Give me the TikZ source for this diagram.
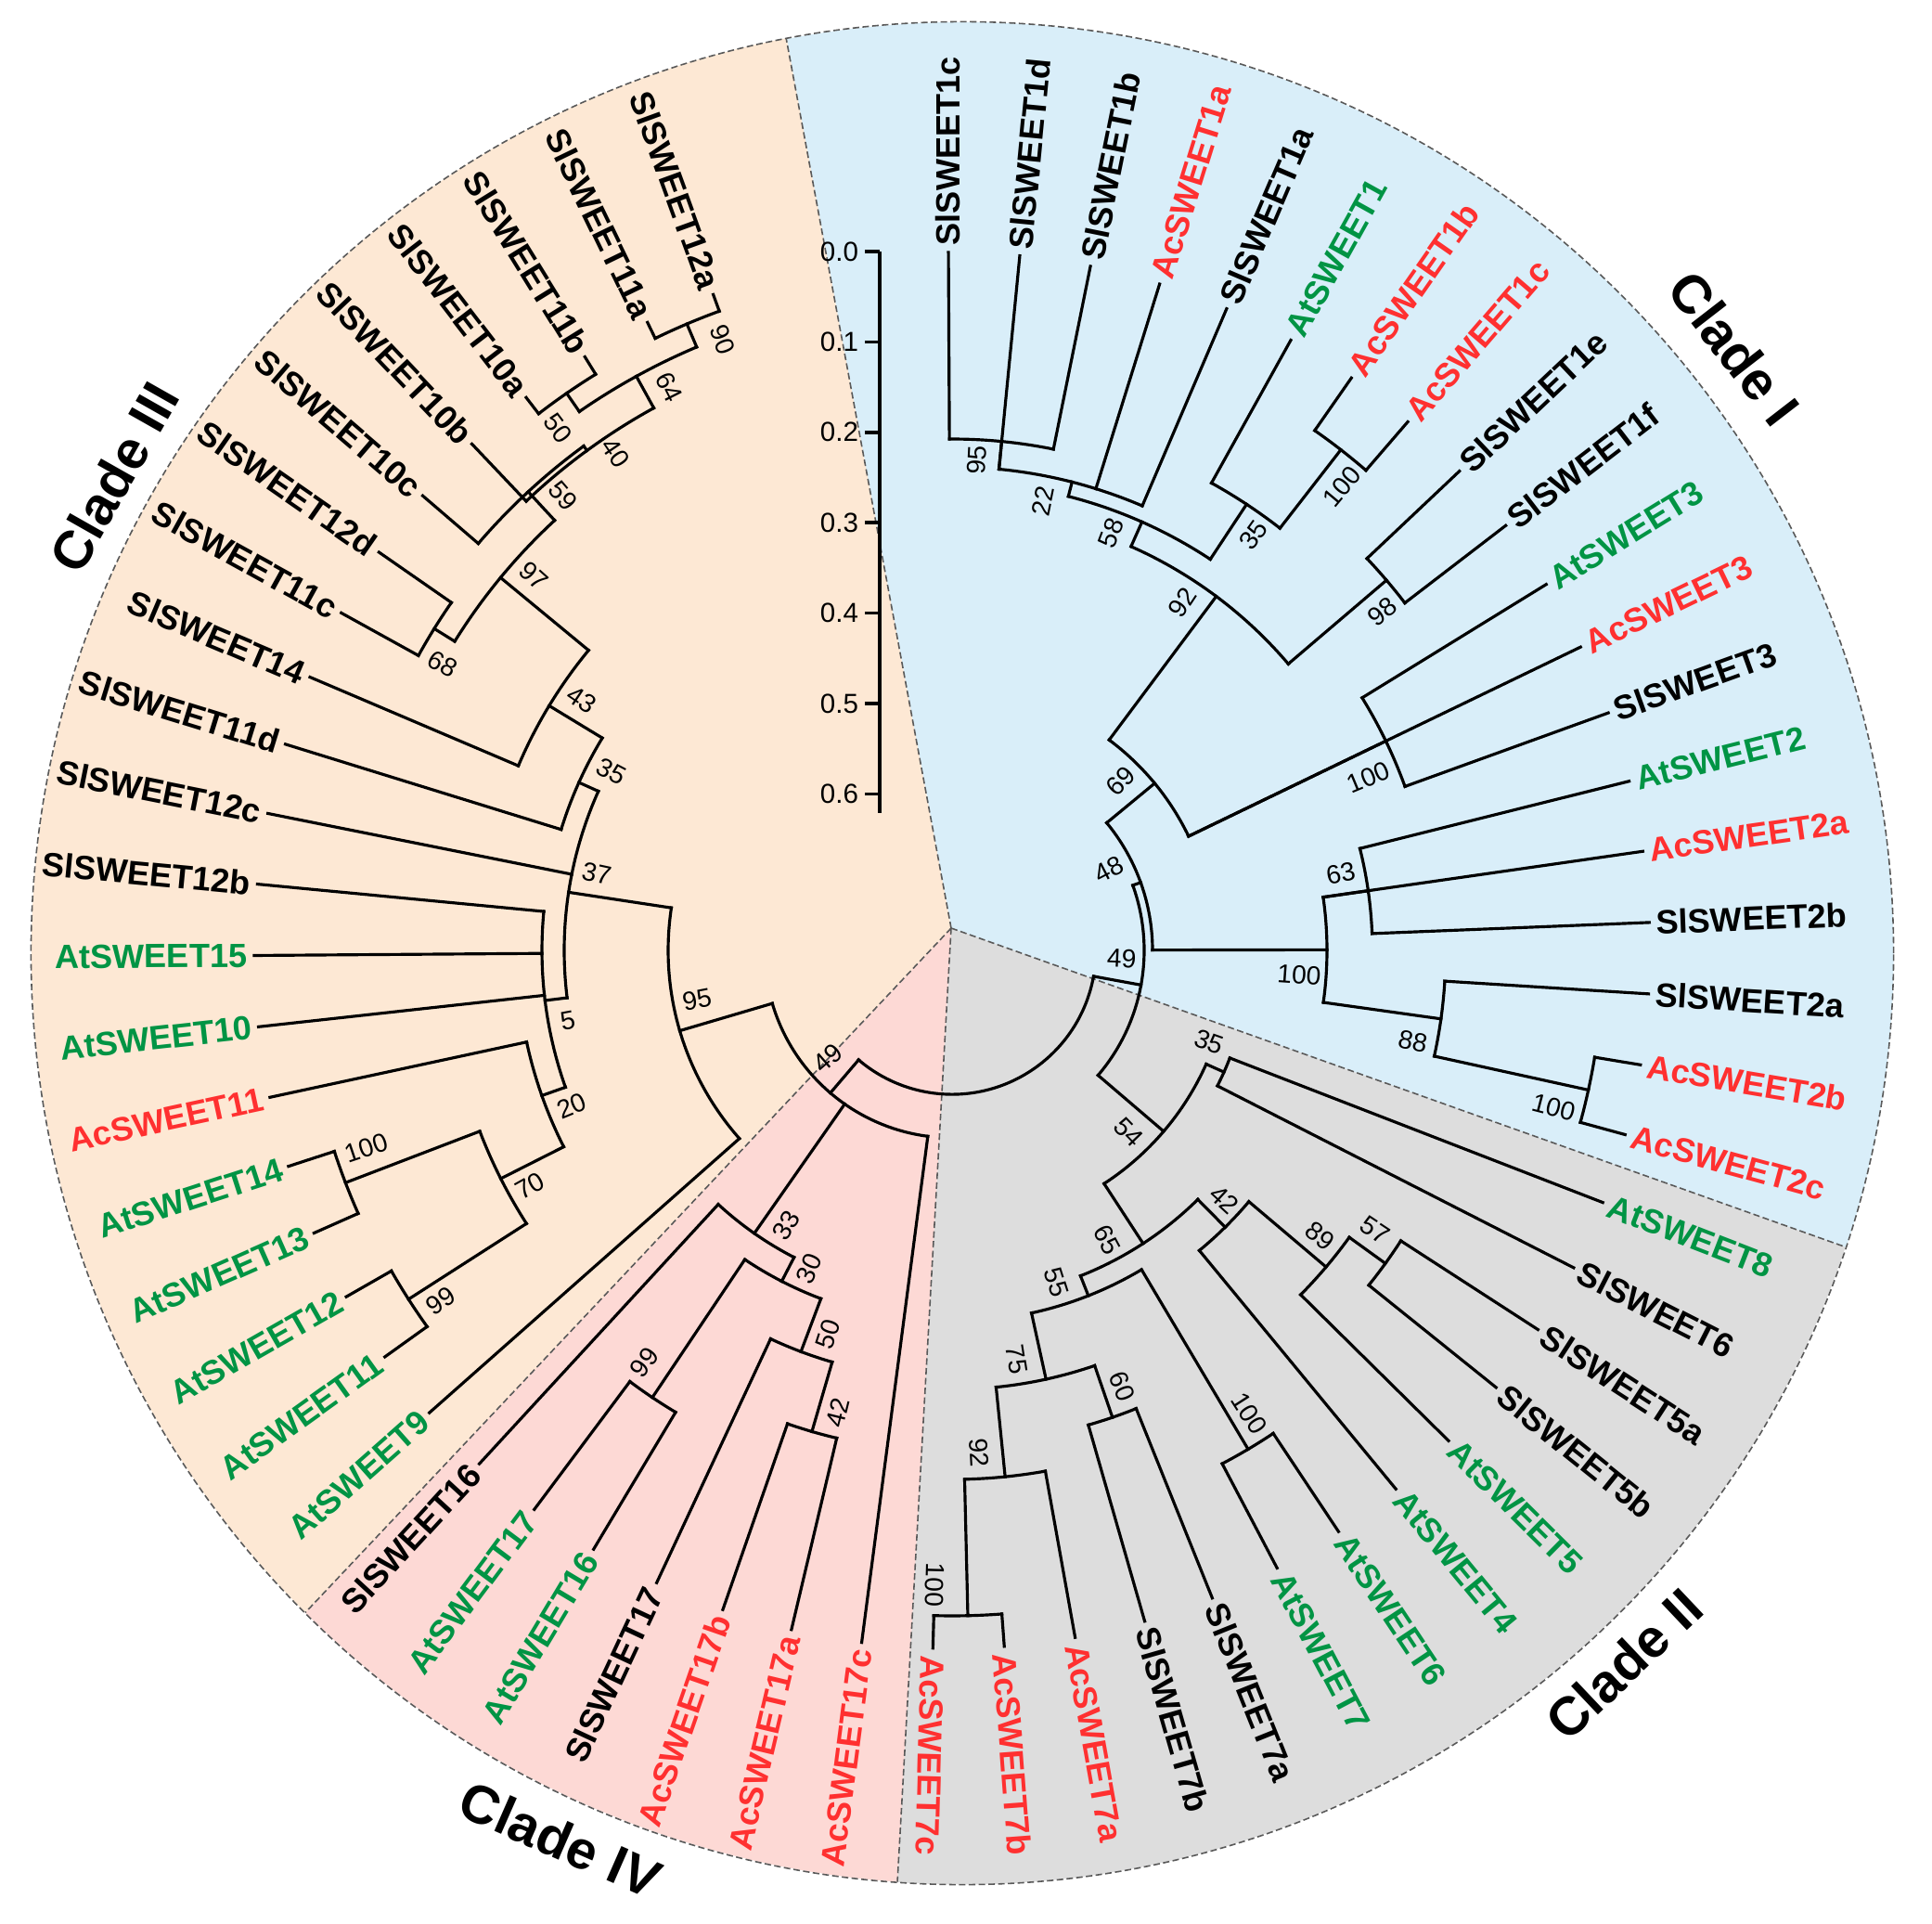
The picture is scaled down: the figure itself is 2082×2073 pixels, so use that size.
\documentclass[tikz,border=0pt]{standalone}
\usepackage{fontspec}
\setmainfont{Liberation Sans}
\definecolor{bgblue}{HTML}{D9EEF9}
\definecolor{bggrey}{HTML}{DDDDDD}
\definecolor{bgpink}{HTML}{FDD9D5}
\definecolor{bgpeach}{HTML}{FDE8D4}
\definecolor{acred}{HTML}{FF3030}
\definecolor{atgreen}{HTML}{009444}
\pgfmathdeclarefunction{uang}{1}{\pgfmathparse{90.3-5.867*#1}}
\tikzset{
  branch/.style={line width=0.9pt, line cap=rect},
  tiplab/.style={font=\fontsize{10.3}{12}\selectfont\bfseries, inner sep=2pt, text=#1},
  bootlab/.style={font=\fontsize{8}{9}\selectfont, inner sep=0pt},
  cladelab/.style={font=\fontsize{16.5}{19}\selectfont\bfseries},
  rim/.style={draw=black!65, line width=0.45pt, dash pattern=on 2pt off 1pt},
  scalebar/.style={line width=1pt},
  scalelab/.style={font=\fontsize{8.4}{10}\selectfont, left, inner sep=1.5pt}
}
\newcommand\leaf[5]{%
  \draw[branch] ({uang(#1)}:#2) -- ({uang(#1)}:752) coordinate (#3);
  \pgfmathsetmacro\leafang{uang(#1)}
  \ifdim\leafang pt>-95pt
    \node[tiplab=#4, anchor=west, rotate=\leafang] (#3lab) at (#3) {#5};
  \else
    \node[tiplab=#4, anchor=east, rotate=\leafang+180] (#3lab) at (#3) {#5};
  \fi}
\newcommand\clade[6]{%
  \draw[branch] ({uang(#3)}:#5) -- ({uang(#3)}:#4) coordinate (#6);
  \draw[branch] ({uang(#1)}:#4) arc[start angle={uang(#1)}, end angle={uang(#2)}, radius=#4*0.01cm];}
\newcommand\boot[4]{%
  \pgfmathsetmacro\bootang{uang(#1)}
  \ifdim\bootang pt>-95pt
    \node[bootlab, rotate=\bootang] (#3) at ({\bootang}:#2) {#4};
  \else
    \node[bootlab, rotate=\bootang+180] (#3) at ({\bootang}:#2) {#4};
  \fi}

\begin{document}
\begin{tikzpicture}[x=0.01cm, y=0.01cm]
\useasboundingbox (0,0) rectangle (2082,-2073);
\fill[white] (0,0) rectangle (2082,-2073);
\coordinate (apex) at (1025,-1000);
\coordinate (rimc) at (1037,-1027);
\foreach \a/\b/\c in {100.9/-18.4/bgblue, -18.4/-94/bggrey, -94/-134.9/bgpink, -134.9/-259.1/bgpeach}
  \fill[\c] (apex) -- ([shift={(rimc)}]\a:1003) arc[start angle=\a, end angle=\b, radius=10.03cm] -- cycle;
\draw[rim] (rimc) circle[radius=10.03cm];
\foreach \a in {100.9,-18.4,-94,-134.9}
  \draw[rim] (apex) -- ([shift={(rimc)}]\a:1003);

\draw[scalebar] (948,-271) coordinate (sbtop) -- (948,-876) coordinate (sbbot);
\foreach \k in {0,...,6}
  \draw[scalebar] (948,{-271-97.4*\k}) -- ++(-16,0) node[scalelab] (tick\k) {0.\k};

\begin{scope}[shift={(1026,-1024)}]
\leaf{0}{551}{sl1c}{black}{SlSWEET1c}
\leaf{1}{521}{sl1d}{black}{SlSWEET1d}
\leaf{2}{551}{sl1b}{black}{SlSWEET1b}
\leaf{3}{521}{ac1a}{acred}{AcSWEET1a}
\leaf{4}{521}{sl1a}{black}{SlSWEET1a}
\leaf{5}{576}{at1}{atgreen}{AtSWEET1}
\leaf{6}{683}{ac1b}{acred}{AcSWEET1b}
\leaf{7}{683}{ac1c}{acred}{AcSWEET1c}
\leaf{8}{615}{sl1e}{black}{SlSWEET1e}
\leaf{9}{615}{sl1f}{black}{SlSWEET1f}
\leaf{10}{519}{at3}{atgreen}{AtSWEET3}
\leaf{11}{283}{ac3}{acred}{AcSWEET3}
\leaf{12}{519}{sl3}{black}{SlSWEET3}
\leaf{13}{453}{at2}{atgreen}{AtSWEET2}
\leaf{14}{404}{ac2a}{acred}{AcSWEET2a}
\leaf{15}{453}{sl2b}{black}{SlSWEET2b}
\leaf{16}{532}{sl2a}{black}{SlSWEET2a}
\leaf{17}{702}{ac2b}{acred}{AcSWEET2b}
\leaf{18}{702}{ac2c}{acred}{AcSWEET2c}
\leaf{19}{321}{at8}{atgreen}{AtSWEET8}
\leaf{20}{321}{sl6}{black}{SlSWEET6}
\leaf{21}{576}{sl5a}{black}{SlSWEET5a}
\leaf{22}{576}{sl5b}{black}{SlSWEET5b}
\leaf{23}{528}{at5}{atgreen}{AtSWEET5}
\leaf{24}{419}{at4}{atgreen}{AtSWEET4}
\leaf{25}{625}{at6}{atgreen}{AtSWEET6}
\leaf{26}{625}{at7}{atgreen}{AtSWEET7}
\leaf{27}{532}{sl7a}{black}{SlSWEET7a}
\leaf{28}{532}{sl7b}{black}{SlSWEET7b}
\leaf{29}{570}{ac7a}{acred}{AcSWEET7a}
\leaf{30}{717}{ac7b}{acred}{AcSWEET7b}
\leaf{31}{717}{ac7c}{acred}{AcSWEET7c}
\leaf{32}{202}{ac17c}{acred}{AcSWEET17c}
\leaf{33}{540}{ac17a}{acred}{AcSWEET17a}
\leaf{34}{540}{ac17b}{acred}{AcSWEET17b}
\leaf{35}{462}{sl17}{black}{SlSWEET17}
\leaf{36}{580}{at16}{atgreen}{AtSWEET16}
\leaf{37}{580}{at17}{atgreen}{AtSWEET17}
\leaf{38}{372}{sl16}{black}{SlSWEET16}
\leaf{39}{306}{at9}{atgreen}{AtSWEET9}
\leaf{40}{696}{at11}{atgreen}{AtSWEET11}
\leaf{41}{696}{at12}{atgreen}{AtSWEET12}
\leaf{42}{700}{at13}{atgreen}{AtSWEET13}
\leaf{43}{700}{at14}{atgreen}{AtSWEET14}
\leaf{44}{469}{ac11}{acred}{AcSWEET11}
\leaf{45}{442}{at10}{atgreen}{AtSWEET10}
\leaf{46}{442}{at15}{atgreen}{AtSWEET15}
\leaf{47}{442}{sl12b}{black}{SlSWEET12b}
\leaf{48}{418}{sl12c}{black}{SlSWEET12c}
\leaf{49}{441}{sl11d}{black}{SlSWEET11d}
\leaf{50}{508}{sl14}{black}{SlSWEET14}
\leaf{51}{657}{sl11c}{black}{SlSWEET11c}
\leaf{52}{657}{sl12d}{black}{SlSWEET12d}
\leaf{53}{673}{sl10c}{black}{SlSWEET10c}
\leaf{54}{667}{sl10b}{black}{SlSWEET10b}
\leaf{55}{730}{sl10a}{black}{SlSWEET10a}
\leaf{56}{730}{sl11b}{black}{SlSWEET11b}
\leaf{57}{733}{sl11a}{black}{SlSWEET11a}
\leaf{58}{733}{sl12a}{black}{SlSWEET12a}

\clade{0}{2}{1}{551}{521}{n95}
\clade{1}{4}{2.5}{521}{505}{n22}
\clade{6}{7}{6.5}{683}{576}{n100a}
\clade{5}{6.5}{5.75}{576}{505}{n35}
\clade{2.5}{5.75}{4.125}{505}{476}{n58}
\clade{8}{9}{8.5}{615}{476}{n98}
\clade{4.125}{8.5}{6.3125}{476}{283}{n92}
\clade{10}{12}{11}{519}{283}{n100c}
\clade{6.3125}{11}{8.656}{283}{216}{n69}
\clade{13}{15}{14}{453}{404}{n63}
\clade{17}{18}{17.5}{702}{532}{n100d}
\clade{16}{17.5}{16.75}{532}{404}{n88}
\clade{14}{16.75}{15.375}{404}{216}{n100b}
\clade{8.656}{15.375}{12.016}{216}{207}{n48}
\clade{19}{20}{19.5}{321}{300}{n35b}
\clade{21}{22}{21.5}{576}{528}{n57}
\clade{21.5}{23}{22.25}{528}{419}{n89}
\clade{22.25}{24}{23.125}{419}{377}{n42}
\clade{25}{26}{25.5}{625}{400}{n100e}
\clade{27}{28}{27.5}{532}{473}{n60}
\clade{30}{31}{30.5}{717}{570}{n100f}
\clade{29}{30.5}{29.75}{570}{473}{n92b}
\clade{27.5}{29.75}{28.625}{473}{400}{n75}
\clade{25.5}{28.625}{27.06}{400}{377}{n55}
\clade{23.125}{27.06}{25.09}{377}{300}{n65}
\clade{19.5}{25.09}{22.3}{300}{207}{n54}
\clade{12.016}{22.3}{17.16}{207}{155}{n49}
\clade{33}{34}{33.5}{540}{462}{n42b}
\clade{33.5}{35}{34.25}{462}{401}{n50}
\clade{36}{37}{36.5}{580}{401}{n99}
\clade{34.25}{36.5}{35.375}{401}{372}{n30}
\clade{35.375}{38}{36.69}{372}{202}{n33}
\clade{42}{43}{42.5}{700}{545}{n100g}
\clade{40}{41}{40.5}{696}{545}{n99c}
\clade{40.5}{42.5}{41.5}{545}{469}{n70}
\clade{41.5}{44}{42.75}{469}{442}{n20}
\clade{42.75}{47}{44.875}{442}{418}{n5}
\clade{57}{58}{57.5}{733}{706}{n90}
\clade{55}{56}{55.5}{730}{706}{n50b}
\clade{55.5}{57.5}{56.5}{706}{667}{n64}
\clade{54}{56.5}{55.25}{667}{673}{n40}
\clade{53}{55.25}{54.125}{673}{631}{n59}
\clade{51}{52}{51.5}{657}{631}{n68}
\clade{51.5}{54.125}{52.81}{631}{508}{n97}
\clade{50}{52.81}{51.4}{508}{441}{n43}
\clade{49}{51.4}{50.2}{441}{418}{n35c}
\clade{44.875}{50.2}{47.54}{418}{306}{n37}
\clade{39}{47.54}{43.27}{306}{202}{n95c}
\clade{32}{43.27}{37.635}{202}{155}{n49b}
\draw[branch] ({uang(17.16)}:155) arc[start angle={uang(17.16)}, end angle={uang(37.635)}, radius=1.55cm] coordinate (root);

\boot{0.55}{529}{n95v}{95}
\boot{2.0}{494}{n22v}{22}
\boot{3.6}{481}{n58v}{58}
\boot{6.18}{553}{n35v}{35}
\boot{6.87}{653}{n100av}{100}
\boot{5.76}{450}{n92v}{92}
\boot{8.88}{590}{n98v}{98}
\boot{7.7}{258}{n69v}{69}
\boot{11.54}{486}{n100cv}{100}
\boot{10.75}{190}{n48v}{48}
\boot{15.85}{183}{n49v}{49}
\boot{13.48}{427}{n63v}{63}
\boot{16.08}{375}{n100bv}{100}
\boot{17.29}{506}{n88v}{88}
\boot{17.89}{670}{n100dv}{100}
\boot{18.73}{294}{n35bv}{35}
\boot{23.2}{273}{n54v}{54}
\boot{22.63}{398}{n42v}{42}
\boot{21.83}{502}{n89v}{89}
\boot{21.1}{546}{n57v}{57}
\boot{25.92}{354}{n65v}{65}
\boot{27.75}{375}{n55v}{55}
\boot{25.16}{593}{n100ev}{100}
\boot{29.2}{446}{n75v}{75}
\boot{27.1}{504}{n60v}{60}
\boot{30.2}{542}{n92bv}{92}
\boot{31.0}{684}{n100fv}{100}
\boot{39.1}{177}{n49bv}{49}
\boot{36.03}{346}{n33v}{33}
\boot{34.86}{376}{n30v}{30}
\boot{33.79}{435}{n50v}{50}
\boot{33.1}{513}{n42bv}{42}
\boot{37.0}{554}{n99v}{99}
\boot{44.2}{280}{n95cv}{95}
\boot{48.15}{392}{n37v}{37}
\boot{44.3}{421}{n5v}{5}
\boot{42.28}{443}{n20v}{20}
\boot{41.1}{521}{n70v}{70}
\boot{42.9}{666}{n100gv}{100}
\boot{40.2}{668}{n99cv}{99}
\boot{50.8}{415}{n35cv}{35}
\boot{51.88}{482}{n43v}{43}
\boot{51.07}{630}{n68v}{68}
\boot{53.2}{605}{n97v}{97}
\boot{54.5}{645}{n59v}{59}
\boot{55.6}{647}{n40v}{40}
\boot{55.1}{705}{n50bv}{50}
\boot{56.86}{679}{n64v}{64}
\boot{57.9}{703}{n90v}{90}
\end{scope}

\node[cladelab, rotate=-52.3] (cladeI) at (1869,-375) {Clade I};
\node[cladelab, rotate=43.4] (cladeII) at (1750,-1793) {Clade II};
\node[cladelab, rotate=-23.7] (cladeIV) at (604,-1982) {Clade IV};
\node[cladelab, rotate=60.5] (cladeIII) at (123,-514) {Clade III};
\end{tikzpicture}
\end{document}
